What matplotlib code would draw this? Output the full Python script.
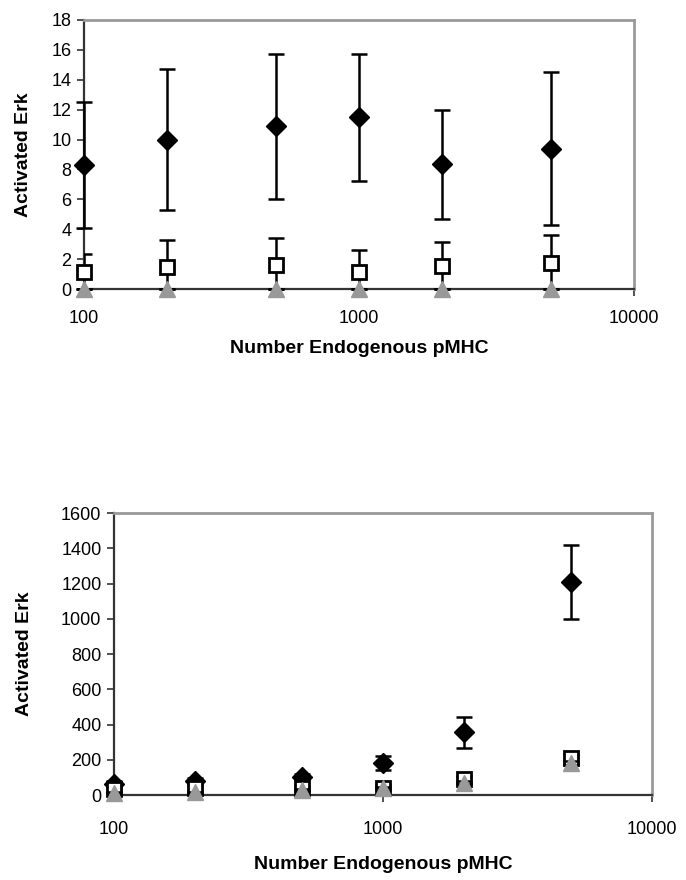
import numpy as np
import matplotlib
matplotlib.use("Agg")
import matplotlib.pyplot as plt

plt.rcParams['font.family'] = ['Liberation Sans', 'DejaVu Sans']

# x positions (number of endogenous pMHC)
pmhc = [100, 200, 500, 1000, 2000, 5000]

# top panel
top_diamond = [8.3, 10.0, 10.9, 11.5, 8.35, 9.4]
top_diamond_err = [4.2, 4.7, 4.85, 4.25, 3.65, 5.1]
top_square = [1.15, 1.45, 1.6, 1.12, 1.57, 1.73]
top_square_err = [1.2, 1.85, 1.82, 1.5, 1.55, 1.9]
top_tri = [0.0, 0.0, 0.0, 0.0, 0.0, 0.0]
top_tri_err = [0.03, 0.03, 0.03, 0.03, 0.03, 0.03]

# bottom panel
bot_diamond = [65, 82, 104, 180, 355, 1208]
bot_diamond_err = [12, 12, 15, 40, 88, 210]
bot_square = [36, 40, 40, 42, 90, 208]
bot_square_err = [10, 10, 12, 12, 20, 25]
bot_tri = [12, 15, 28, 42, 70, 180]
bot_tri_err = [3, 3, 4, 5, 8, 12]

W, H = 686, 880
fig = plt.figure(figsize=(W / 100, H / 100), dpi=100)
fig.patch.set_facecolor('white')


def px_axes(l, t, r, b):
    return fig.add_axes([l / W, 1 - b / H, (r - l) / W, (b - t) / H])


def style(ax, ymax, ystep, xlab_y, ylab_x, xpad):
    ax.set_xscale('log')
    ax.set_xlim(100, 10000)
    ax.set_ylim(0, ymax)
    ax.set_xticks([100, 1000, 10000])
    ax.set_xticklabels(['100', '1000', '10000'])
    ax.xaxis.set_minor_locator(matplotlib.ticker.NullLocator())
    ax.set_yticks(np.arange(0, ymax + 1, ystep))
    ax.tick_params(axis='both', direction='out', length=5, width=1.2,
                   labelsize=13, color='#333333')
    ax.tick_params(axis='x', pad=xpad)
    ax.tick_params(axis='y', pad=4)
    for s in ['top', 'right']:
        ax.spines[s].set_color('#999999')
        ax.spines[s].set_linewidth(2)
    ax.spines['left'].set_color('#333333')
    ax.spines['left'].set_linewidth(1.6)
    ax.spines['bottom'].set_color('#333333')
    ax.spines['bottom'].set_linewidth(1.6)
    ax.set_xlabel('Number Endogenous pMHC', fontsize=14, fontweight='bold')
    ax.set_ylabel('Activated Erk', fontsize=14, fontweight='bold')
    ax.xaxis.set_label_coords(0.5, xlab_y)
    ax.yaxis.set_label_coords(ylab_x, 0.5)


def draw(ax, d, de, s, se, t, te):
    ax.errorbar(pmhc, d, yerr=de, fmt='none', ecolor='black', elinewidth=1.8,
                capsize=5.5, capthick=1.8, clip_on=False, zorder=3)
    ax.plot(pmhc, d, 'D', color='black', markersize=10.5, clip_on=False, zorder=4)
    ax.errorbar(pmhc, s, yerr=se, fmt='none', ecolor='black', elinewidth=1.8,
                capsize=5.5, capthick=1.8, zorder=5)
    ax.plot(pmhc, s, 's', markerfacecolor='white', markeredgecolor='black',
            markeredgewidth=2, markersize=9.5, clip_on=False, zorder=6)
    ax.errorbar(pmhc, t, yerr=te, fmt='none', ecolor='black', elinewidth=1.8,
                capsize=5.5, capthick=1.8, clip_on=False, zorder=7)
    ax.plot(pmhc, t, '^', color='#999999', markersize=11, clip_on=False, zorder=8)


ax1 = px_axes(84, 20, 634, 289)
draw(ax1, top_diamond, top_diamond_err, top_square, top_square_err, top_tri, top_tri_err)
style(ax1, 18, 2, -0.19, -0.095, 10)

ax2 = px_axes(114, 513, 652, 795)
draw(ax2, bot_diamond, bot_diamond_err, bot_square, bot_square_err, bot_tri, bot_tri_err)
style(ax2, 1600, 200, -0.215, -0.15, 14)

fig.savefig('out.png', dpi=100, facecolor='white')
